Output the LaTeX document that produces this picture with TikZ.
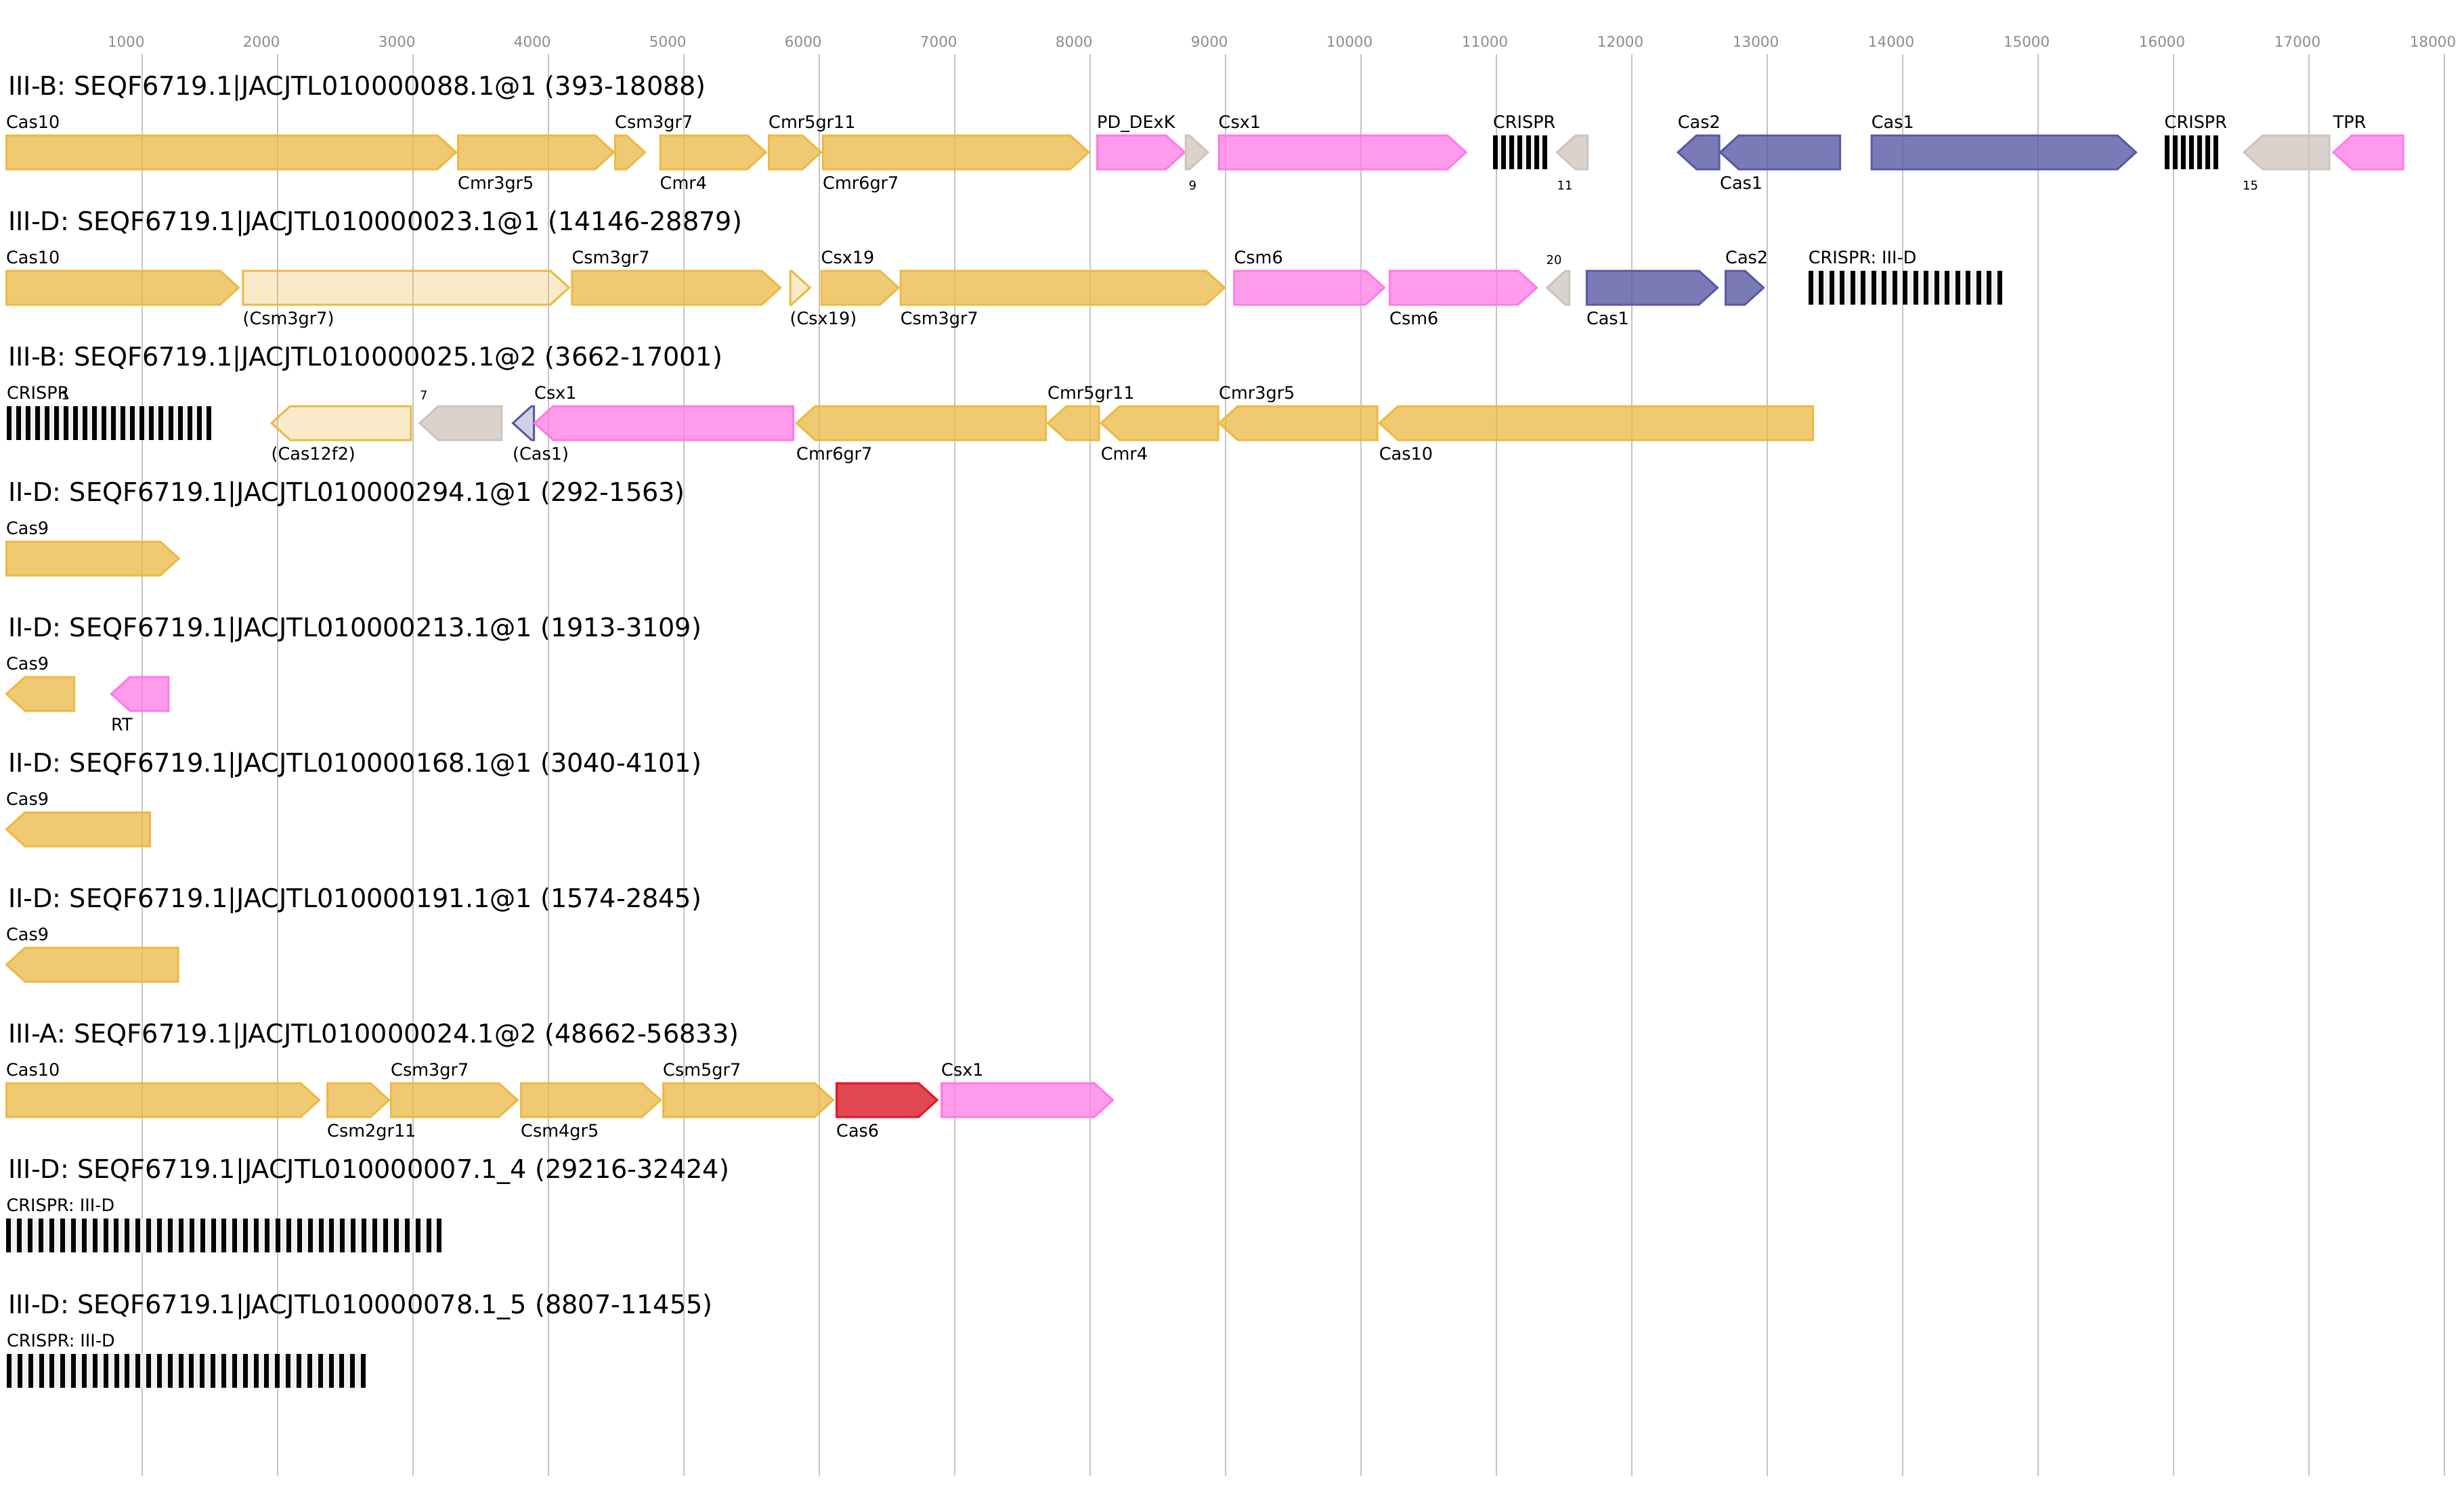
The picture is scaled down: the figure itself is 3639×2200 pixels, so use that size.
\documentclass[tikz,border=0pt]{standalone}
\usepackage{fontspec}
\setmainfont{DejaVu Sans}
\newcounter{labn}
\definecolor{cgold}{RGB}{236,185,67}
\definecolor{cpink}{RGB}{255,122,229}
\definecolor{cgray}{RGB}{206,196,187}
\definecolor{cblue}{RGB}{88,90,165}
\definecolor{cred}{RGB}{220,26,40}
\definecolor{gridc}{RGB}{196,196,196}
\definecolor{tickc}{RGB}{140,140,140}
\definecolor{crg}{RGB}{240,240,240}
\tikzset{
 gridline/.style={draw=gridc, line width=2pt},
 gGold/.style={draw=cgold, fill=cgold, fill opacity=0.75, line width=3pt},
 gPale/.style={draw=cgold, fill=cgold, fill opacity=0.28, line width=3pt},
 gPink/.style={draw=cpink, fill=cpink, fill opacity=0.75, line width=3pt},
 gGray/.style={draw=cgray, fill=cgray, fill opacity=0.75, line width=3pt},
 gBlue/.style={draw=cblue, fill=cblue, fill opacity=0.8, line width=3pt},
 gPaleBlue/.style={draw=cblue, fill=cblue, fill opacity=0.28, line width=3pt},
 gRed/.style={draw=cred, fill=cred, fill opacity=0.8, line width=3pt},
 ttl/.style={anchor=base west, inner sep=0, font=\fontsize{38.2}{41}\selectfont},
 lbl/.style={anchor=base west, inner sep=0, font=\fontsize{25.5}{28}\selectfont},
 num/.style={anchor=base west, inner sep=0, font=\fontsize{18}{20}\selectfont},
 ticklab/.style={anchor=base west, inner sep=0, text=tickc, font=\fontsize{21.5}{24}\selectfont},
}
% right-pointing gene: style, x1, x2, ymid
\newcommand\GR[4]{\draw[#1] ({#2+1.5},{#4-25}) -- ({#3-29},{#4-25}) -- ({#3-1.5},{#4}) -- ({#3-29},{#4+25}) -- ({#2+1.5},{#4+25}) -- cycle;}
% left-pointing gene: style, x1 (tip), x2, ymid
\newcommand\GL[4]{\draw[#1] ({#3-1.5},{#4-25}) -- ({#2+29},{#4-25}) -- ({#2+1.5},{#4}) -- ({#2+29},{#4+25}) -- ({#3-1.5},{#4+25}) -- cycle;}
% labels: x, ymid, text
\newcommand\LA[3]{\stepcounter{labn}\node[lbl] (n\thelabn) at ({#1+1},{#2-36}) {#3};}
\newcommand\LB[3]{\stepcounter{labn}\node[lbl] (n\thelabn) at ({#1+1},{#2+54}) {#3};}
\newcommand\NA[3]{\stepcounter{labn}\node[num] (n\thelabn) at ({#1},{#2-35}) {#3};}
\newcommand\NB[3]{\stepcounter{labn}\node[num] (n\thelabn) at ({#1},{#2+55}) {#3};}
\newcommand\TT[2]{\stepcounter{labn}\node[ttl] (n\thelabn) at (12,{#1-85}) {#2};}
% crispr: x0, count, period, ymid
\newcommand\CR[4]{\fill[crg] ({#1},{#4-25}) rectangle ({#1+(#2-1)*#3+7},{#4+25});
 \foreach \k in {1,...,#2} {\fill[black] ({#1+(\k-1)*#3},{#4-25}) rectangle ++(7,50);}}
\begin{document}
\begin{tikzpicture}[x=1pt,y=-1pt]
\fill[white] (0,0) rectangle (3639,2200);
\useasboundingbox (0,0) rectangle (3639,2200);
% grid and ticks
\foreach \k in {1,...,18} {
  \draw[gridline] ({9.7+200*\k},80) -- ({9.7+200*\k},2180);
  \node[ticklab] (tk\k) at ({9.7+200*\k-51},70) {\number\numexpr\k*1000\relax};
}
% ---------- track 0
\TT{225}{III-B: SEQF6719.1|JACJTL010000088.1@1 (393-18088)}
\GR{gGold}{8}{675}{225}\LA{8}{225}{Cas10}
\GR{gGold}{675}{908}{225}\LB{675}{225}{Cmr3gr5}
\GR{gGold}{907}{954}{225}\LA{907}{225}{Csm3gr7}
\GR{gGold}{973.5}{1132.6}{225}\LB{973.5}{225}{Cmr4}
\GR{gGold}{1134}{1214}{225}\LA{1134}{225}{Cmr5gr11}
\GR{gGold}{1214}{1609.4}{225}\LB{1214}{225}{Cmr6gr7}
\GR{gPink}{1619}{1751}{225}\LA{1619}{225}{PD\_DExK}
\GR{gGray}{1749.5}{1785.5}{225}\NB{1755.5}{225}{9}
\GR{gPink}{1798.5}{2166.6}{225}\LA{1798.5}{225}{Csx1}
\CR{2204.8}{7}{12.2}{225}\LA{2203.8}{225}{CRISPR}
\GL{gGray}{2298}{2346}{225}\NB{2299.5}{225}{11}
\GL{gBlue}{2476.6}{2540.7}{225}\LA{2476.6}{225}{Cas2}
\GL{gBlue}{2539}{2719}{225}\LB{2539}{225}{Cas1}
\GR{gBlue}{2762.7}{3156}{225}\LA{2762.7}{225}{Cas1}
\CR{3196.5}{7}{12}{225}\LA{3195.5}{225}{CRISPR}
\GL{gGray}{3312.7}{3441.5}{225}\NB{3312}{225}{15}
\GL{gPink}{3444.6}{3550.5}{225}\LA{3444.6}{225}{TPR}
% ---------- track 1
\TT{425}{III-D: SEQF6719.1|JACJTL010000023.1@1 (14146-28879)}
\GR{gGold}{8}{354}{425}\LA{8}{425}{Cas10}
\GR{gPale}{357.4}{841.8}{425}\LB{357.4}{425}{(Csm3gr7)}
\GR{gGold}{843.4}{1154}{425}\LA{843.4}{425}{Csm3gr7}
\GR{gPale}{1165.5}{1197.7}{425}\LB{1165.5}{425}{(Csx19)}
\GR{gGold}{1211.5}{1328.6}{425}\LA{1211.5}{425}{Csx19}
\GR{gGold}{1328.6}{1810}{425}\LB{1328.6}{425}{Csm3gr7}
\GR{gPink}{1821.4}{2046}{425}\LA{1821.4}{425}{Csm6}
\GR{gPink}{2051}{2271}{425}\LB{2051}{425}{Csm6}
\GL{gGray}{2283}{2319}{425}\NA{2283.4}{425}{20}
\GR{gBlue}{2341.8}{2538}{425}\LB{2341.8}{425}{Cas1}
\GR{gBlue}{2547}{2606}{425}\LA{2547}{425}{Cas2}
\CR{2670.7}{19}{15.5}{425}\LA{2669.7}{425}{CRISPR: III-D}
% ---------- track 2
\TT{625}{III-B: SEQF6719.1|JACJTL010000025.1@2 (3662-17001)}
\CR{10}{22}{14.03}{625}\LA{9}{625}{CRISPR}\NA{90.5}{625}{1}
\GL{gPale}{399.5}{608.4}{625}\LB{399.5}{625}{(Cas12f2)}
\GL{gGray}{618.4}{742.3}{625}\NA{620}{625}{7}
\GL{gPaleBlue}{756}{790}{625}\LB{756}{625}{(Cas1)}
\GL{gPink}{788}{1173}{625}\LA{788}{625}{Csx1}
\GL{gGold}{1175}{1546}{625}\LB{1175}{625}{Cmr6gr7}
\GL{gGold}{1546}{1624.6}{625}\LA{1546}{625}{Cmr5gr11}
\GL{gGold}{1624.6}{1800.5}{625}\LB{1624.6}{625}{Cmr4}
\GL{gGold}{1799}{2035.7}{625}\LA{1799}{625}{Cmr3gr5}
\GL{gGold}{2035.7}{2679}{625}\LB{2035.7}{625}{Cas10}
% ---------- track 3
\TT{825}{II-D: SEQF6719.1|JACJTL010000294.1@1 (292-1563)}
\GR{gGold}{8}{265.6}{825}\LA{8}{825}{Cas9}
% ---------- track 4
\TT{1025}{II-D: SEQF6719.1|JACJTL010000213.1@1 (1913-3109)}
\GL{gGold}{8}{111}{1025}\LA{8}{1025}{Cas9}
\GL{gPink}{163}{250.3}{1025}\LB{163}{1025}{RT}
% ---------- track 5
\TT{1225}{II-D: SEQF6719.1|JACJTL010000168.1@1 (3040-4101)}
\GL{gGold}{8}{222.8}{1225}\LA{8}{1225}{Cas9}
% ---------- track 6
\TT{1425}{II-D: SEQF6719.1|JACJTL010000191.1@1 (1574-2845)}
\GL{gGold}{8}{264.6}{1425}\LA{8}{1425}{Cas9}
% ---------- track 7
\TT{1625}{III-A: SEQF6719.1|JACJTL010000024.1@2 (48662-56833)}
\GR{gGold}{8}{473}{1625}\LA{8}{1625}{Cas10}
\GR{gGold}{482}{576}{1625}\LB{482}{1625}{Csm2gr11}
\GR{gGold}{576}{765.7}{1625}\LA{576}{1625}{Csm3gr7}
\GR{gGold}{768}{977}{1625}\LB{768}{1625}{Csm4gr5}
\GR{gGold}{978}{1232}{1625}\LA{978}{1625}{Csm5gr7}
\GR{gRed}{1234}{1385.6}{1625}\LB{1234}{1625}{Cas6}
\GR{gPink}{1389}{1645}{1625}\LA{1389}{1625}{Csx1}
% ---------- track 8
\TT{1825}{III-D: SEQF6719.1|JACJTL010000007.1\_4 (29216-32424)}
\CR{9.4}{41}{15.9}{1825}\LA{8.4}{1825}{CRISPR: III-D}
% ---------- track 9
\TT{2025}{III-D: SEQF6719.1|JACJTL010000078.1\_5 (8807-11455)}
\CR{10}{34}{15.85}{2025}\LA{9}{2025}{CRISPR: III-D}
\end{tikzpicture}
\end{document}
